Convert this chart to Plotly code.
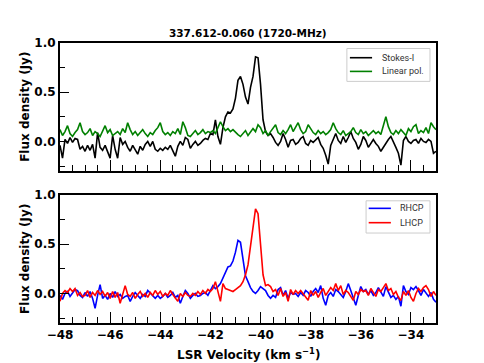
import plotly.graph_objects as go

# channel velocities (km/s)
VELOCITY = [
    -48.0, -47.9, -47.8, -47.7, -47.6, -47.5, -47.4, -47.3, -47.2, -47.1,
    -47.0, -46.9, -46.8, -46.7, -46.6, -46.5, -46.4, -46.3, -46.2, -46.1,
    -46.0, -45.9, -45.8, -45.7, -45.6, -45.5, -45.4, -45.3, -45.2, -45.1,
    -45.0, -44.9, -44.8, -44.7, -44.6, -44.5, -44.4, -44.3, -44.2, -44.1,
    -44.0, -43.9, -43.8, -43.7, -43.6, -43.5, -43.4, -43.3, -43.2, -43.1,
    -43.0, -42.9, -42.8, -42.7, -42.6, -42.5, -42.4, -42.3, -42.2, -42.1,
    -42.0, -41.9, -41.8, -41.7, -41.6, -41.5, -41.4, -41.3, -41.2, -41.1,
    -41.0, -40.9, -40.8, -40.7, -40.6, -40.5, -40.4, -40.3, -40.2, -40.1,
    -40.0, -39.9, -39.8, -39.7, -39.6, -39.5, -39.4, -39.3, -39.2, -39.1,
    -39.0, -38.9, -38.8, -38.7, -38.6, -38.5, -38.4, -38.3, -38.2, -38.1,
    -38.0, -37.9, -37.8, -37.7, -37.6, -37.5, -37.4, -37.3, -37.2, -37.1,
    -37.0, -36.9, -36.8, -36.7, -36.6, -36.5, -36.4, -36.3, -36.2, -36.1,
    -36.0, -35.9, -35.8, -35.7, -35.6, -35.5, -35.4, -35.3, -35.2, -35.1,
    -35.0, -34.9, -34.8, -34.7, -34.6, -34.5, -34.4, -34.3, -34.2, -34.1,
    -34.0, -33.9, -33.8, -33.7, -33.6, -33.5, -33.4, -33.3, -33.2, -33.1,
    -33.0,
]

# flux density (Jy)
STOKES_I = [
    -0.04, -0.17, 0.02, -0.02, 0.04, -0.01, 0.03, 0.02, -0.08, -0.05,
    -0.10, -0.04, -0.09, -0.03, -0.17, 0.09, -0.06, -0.09, -0.04, -0.10,
    -0.17, 0.06, -0.08, -0.17, 0.04, -0.03, 0.00, -0.06, -0.10, -0.04,
    -0.08, -0.13, -0.05, -0.09, -0.03, 0.00, -0.05, 0.00, -0.08, -0.10,
    -0.07, -0.09, -0.06, -0.08, -0.04, -0.09, -0.15, -0.05, 0.00, -0.04,
    0.04, 0.02, -0.07, -0.03, 0.00, -0.04, -0.02, 0.01, 0.03, 0.02,
    0.08, 0.07, 0.22, 0.05, -0.03, 0.14, 0.25, 0.30, 0.29, 0.33,
    0.44, 0.62, 0.66, 0.58, 0.45, 0.38, 0.55, 0.66, 0.86, 0.85,
    0.58, 0.22, 0.10, 0.06, 0.08, 0.04, -0.01, -0.04, 0.00, 0.08,
    0.02, -0.06, 0.01, 0.02, -0.03, -0.01, 0.03, 0.05, -0.02, -0.04,
    0.01, -0.01, 0.02, 0.04, -0.03, -0.07, -0.14, -0.23, -0.04, 0.02,
    0.08, 0.01, -0.02, 0.05, -0.01, 0.04, 0.10, 0.03, -0.01, -0.08,
    -0.03, 0.05, 0.01, -0.06, -0.02, 0.02, -0.02, -0.05, -0.10, -0.06,
    -0.01, 0.02, 0.05, 0.00, -0.06, -0.12, -0.24, 0.01, 0.05, 0.00,
    -0.02, 0.01, 0.02, -0.02, 0.03, 0.00, -0.01, 0.02, 0.00, -0.12,
    -0.10,
]

LINEAR_POL = [
    0.12, 0.06, 0.10, 0.16, 0.08, 0.05, 0.09, 0.12, 0.19, 0.10,
    0.07, 0.09, 0.13, 0.06, 0.10, 0.08, 0.05, 0.11, 0.16, 0.09,
    0.12, 0.06, 0.08, 0.10, 0.07, 0.13, 0.09, 0.19, 0.12, 0.07,
    0.10, 0.06, 0.09, 0.12, 0.08, 0.05, 0.09, 0.07, 0.11, 0.14,
    0.19, 0.10, 0.07, 0.09, 0.06, 0.10, 0.08, 0.13, 0.07, 0.20,
    0.14, 0.06, 0.05, 0.08, 0.11, 0.07, 0.09, 0.12, 0.08, 0.10,
    0.09, 0.11, 0.08, 0.14, 0.20, 0.15, 0.11, 0.13, 0.10, 0.12,
    0.09, 0.07, 0.05, 0.08, 0.11, 0.06, 0.09, 0.13, 0.10, 0.17,
    0.14, 0.08, 0.11, 0.06, 0.10, 0.13, 0.17, 0.09, 0.07, 0.11,
    0.08, 0.12, 0.17, 0.10, 0.14, 0.19, 0.12, 0.08, 0.10, 0.17,
    0.13, 0.09, 0.07, 0.11, 0.08, 0.10, 0.07, 0.09, 0.12, 0.19,
    0.13, 0.09, 0.07, 0.11, 0.06, 0.08, 0.10, 0.14, 0.09, 0.07,
    0.12, 0.08, 0.10, 0.06, 0.09, 0.11, 0.08, 0.10, 0.07, 0.16,
    0.25, 0.15, 0.09, 0.07, 0.11, 0.08, 0.12, 0.09, 0.06, 0.13,
    0.10, 0.15, 0.17, 0.08, 0.11, 0.09, 0.14, 0.08, 0.19, 0.15,
    0.12,
]

RHCP = [
    -0.02, -0.06, 0.00, 0.02, -0.03, 0.01, 0.04, 0.03, -0.02, -0.04,
    0.01, -0.03, 0.02, -0.05, -0.15, -0.02, 0.09, -0.05, -0.02, -0.06,
    0.00, -0.04, 0.02, -0.03, -0.01, -0.05, -0.03, -0.02, -0.08, -0.03,
    0.01, -0.02, -0.05, -0.01, -0.03, 0.03, 0.00, -0.03, -0.05, -0.02,
    -0.05, -0.03, 0.00, -0.04, -0.02, 0.01, -0.04, -0.02, -0.10, -0.03,
    0.03, 0.00, -0.05, -0.02, 0.00, -0.03, -0.02, 0.00, 0.01, -0.02,
    0.03, 0.08, 0.05, 0.07, 0.10, 0.16, 0.22, 0.27, 0.28, 0.33,
    0.42, 0.54, 0.52, 0.35, 0.18, 0.12, 0.06, 0.02, 0.00, 0.03,
    0.07, 0.05, 0.03, -0.02, -0.05, -0.02, -0.04, 0.04, 0.06, -0.02,
    0.03, -0.05, 0.01, -0.01, 0.00, -0.03, 0.01, -0.02, 0.03, 0.01,
    -0.03, 0.02, 0.05, 0.01, 0.08, -0.05, -0.12, -0.02, 0.01, -0.03,
    0.04, 0.02, -0.01, -0.04, 0.02, 0.10, 0.03, -0.05, -0.12, -0.02,
    0.07, 0.02, 0.04, -0.01, 0.03, -0.02, 0.01, 0.06, 0.02, -0.03,
    0.07, 0.01, -0.04, -0.02, -0.06, -0.03, -0.13, 0.08, 0.02, -0.01,
    0.06, 0.04, 0.07, 0.03, -0.02, 0.04, 0.00, -0.03, 0.01, -0.06,
    -0.09,
]

LHCP = [
    -0.08, 0.00, 0.03, 0.01, 0.05, 0.02, 0.05, -0.02, 0.01, -0.03,
    -0.02, 0.03, -0.04, 0.01, -0.02, 0.03, -0.01, 0.02, -0.03, 0.01,
    -0.05, 0.02, -0.04, 0.01, -0.10, -0.02, 0.08, -0.01, -0.03, 0.01,
    -0.05, -0.01, 0.02, -0.03, 0.00, -0.04, 0.01, -0.02, 0.03, -0.01,
    0.02, -0.03, 0.00, -0.02, 0.03, -0.01, -0.04, -0.08, 0.00, -0.03,
    0.01, -0.02, -0.03, 0.00, -0.02, 0.02, -0.01, 0.03, 0.00, 0.04,
    0.02, 0.05, 0.12, 0.03, -0.08, 0.10, 0.05, 0.04, 0.03, 0.02,
    0.04, 0.06, 0.08, 0.12, 0.19, 0.29, 0.47, 0.69, 0.86, 0.81,
    0.50, 0.19, 0.08, 0.09, 0.07, 0.02, 0.04, -0.02, 0.05, -0.03,
    0.01, -0.08, 0.04, -0.01, 0.03, 0.00, 0.03, 0.00, -0.03, -0.07,
    0.03, -0.02, 0.02, -0.04, 0.01, 0.05, -0.02, 0.02, 0.06, 0.03,
    0.10, 0.03, 0.08, -0.01, 0.03, 0.01, -0.03, -0.07, 0.02, -0.01,
    0.04, 0.02, 0.03, -0.02, 0.05, 0.01, -0.03, 0.04, 0.02, 0.06,
    0.10, 0.03, 0.05, -0.01, 0.02, -0.04, -0.07, 0.02, -0.02, 0.03,
    -0.04, -0.08, 0.00, 0.05, 0.02, 0.06, 0.08, 0.04, -0.03, 0.02,
    -0.02,
]

TITLE = "337.612-0.060 (1720-MHz)"

fig = go.Figure()

# oberes Panel: Stokes-I und lineare Polarisation
fig.add_trace(go.Scatter(x=VELOCITY, y=STOKES_I, mode="lines", name="Stokes-I",
                         line=dict(color="black", width=1.6), xaxis="x", yaxis="y"))
fig.add_trace(go.Scatter(x=VELOCITY, y=LINEAR_POL, mode="lines", name="Linear pol.",
                         line=dict(color="green", width=1.6), xaxis="x", yaxis="y"))

# unteres Panel: zirkulare Polarisation
fig.add_trace(go.Scatter(x=VELOCITY, y=RHCP, mode="lines", name="RHCP",
                         line=dict(color="blue", width=1.6), xaxis="x2", yaxis="y2"))
fig.add_trace(go.Scatter(x=VELOCITY, y=LHCP, mode="lines", name="LHCP",
                         line=dict(color="red", width=1.6), xaxis="x2", yaxis="y2"))

tick_font = dict(family="DejaVu Sans", size=12, color="black", weight="bold")

xaxis_style = dict(
    range=[-48, -33], tick0=-48, dtick=2, ticks="inside", ticklen=11, tickwidth=1.2,
    tickcolor="black", showline=True, linecolor="black", linewidth=2, mirror=True,
    showgrid=False, zeroline=False, tickfont=tick_font,
    minor=dict(dtick=0.5, ticks="inside", ticklen=6, tickwidth=1, tickcolor="black", showgrid=False),
)
yaxis_style = dict(
    range=[-0.3, 1.0], tick0=0, dtick=0.5, tickformat=".1f", ticks="inside", ticklen=9,
    tickwidth=1.2, tickcolor="black", showline=True, linecolor="black", linewidth=2,
    mirror=True, showgrid=False, zeroline=False, tickfont=tick_font,
    minor=dict(dtick=0.25, ticks="inside", ticklen=5, tickwidth=1, tickcolor="black", showgrid=False),
)

# Seite hat 8px Rand, daher Margins etwas kleiner
fig.update_layout(
    width=484, height=363,
    margin=dict(l=52, r=56, t=35, b=48),
    paper_bgcolor="white", plot_bgcolor="white",
    showlegend=False,
    xaxis=dict(xaxis_style, anchor="y", showticklabels=False, matches="x2"),
    yaxis=dict(yaxis_style, domain=[0.543, 1.0], anchor="x"),
    xaxis2=dict(xaxis_style, anchor="y2"),
    yaxis2=dict(yaxis_style, domain=[0.0, 0.457], anchor="x2"),
)

# Legenden von Hand (kompakter als die plotly-Legende)
legend_font = dict(family="Roboto", size=9, color="#333333")
legends = [
    ("x domain", "y domain", (0.763, 0.984, 0.70, 0.957), 0.771, 0.830, 0.851,
     [("Stokes-I", "black", 0.885), ("Linear pol.", "green", 0.778)]),
    ("x2 domain", "y2 domain", (0.814, 0.984, 0.703, 0.955), 0.821, 0.880, 0.899,
     [("RHCP", "blue", 0.896), ("LHCP", "red", 0.784)]),
]
for xr, yr, (bx0, bx1, by0, by1), lx0, lx1, tx, entries in legends:
    fig.add_shape(type="rect", xref=xr, yref=yr, x0=bx0, x1=bx1, y0=by0, y1=by1,
                  line=dict(color="#cccccc", width=1), fillcolor="white", layer="above")
    for name, color, ey in entries:
        fig.add_shape(type="line", xref=xr, yref=yr, x0=lx0, x1=lx1, y0=ey, y1=ey,
                      line=dict(color=color, width=1.6), layer="above")
        fig.add_annotation(text=name, xref=xr, yref=yr, x=tx, y=ey, xanchor="left",
                           yanchor="middle", showarrow=False, font=legend_font)

title_font = dict(family="DejaVu Sans", size=12, color="black", weight="bold")
fig.add_annotation(text=TITLE, xref="paper", yref="paper", x=0.5, y=1.036,
                   xanchor="center", yanchor="middle", showarrow=False,
                   font=dict(family="DejaVu Sans", size=10.5, color="black", weight="bold"))
fig.add_annotation(text="Flux density (Jy)", xref="paper", yref="paper", x=-0.093, y=0.772,
                   textangle=-90, xanchor="center", yanchor="middle", showarrow=False, font=title_font)
fig.add_annotation(text="Flux density (Jy)", xref="paper", yref="paper", x=-0.093, y=0.229,
                   textangle=-90, xanchor="center", yanchor="middle", showarrow=False, font=title_font)
fig.add_annotation(text="LSR Velocity (km s<sup>\u22121</sup>)", xref="paper", yref="paper",
                   x=0.5, y=-0.111, xanchor="center", yanchor="middle", showarrow=False, font=title_font)

fig.write_html("out.html")
